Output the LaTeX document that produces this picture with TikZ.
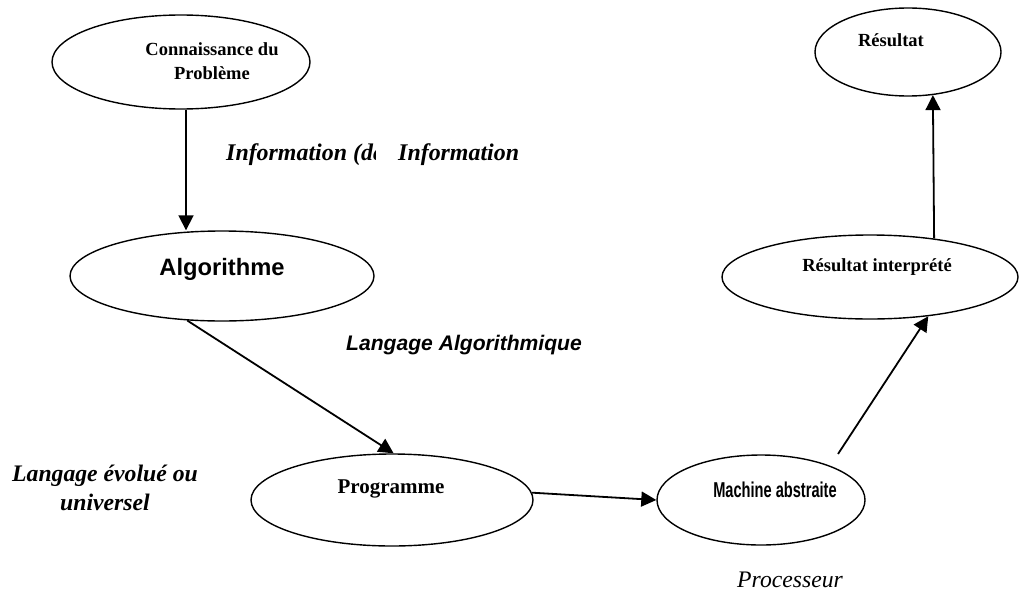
\documentclass[tikz,border=0pt]{standalone}
\usepackage{fontspec}
\setmainfont{Liberation Serif}
\newfontfamily\arialfont{Liberation Sans}
\usetikzlibrary{shapes.geometric,arrows.meta}
\tikzset{
  ell/.style={draw, ellipse, line width=1.4pt, inner sep=0pt},
  arr/.style={line width=1.8pt, -{Triangle[length=15pt,width=15pt]}},
  lbl/.style={inner sep=0pt, font=\fontsize{23.9}{28}\selectfont\bfseries\itshape},
  intext/.style={inner sep=0pt, align=center, font=\fontsize{18.5}{24}\selectfont\bfseries},
}
\begin{document}
\begin{tikzpicture}[x=1pt,y=-1pt]
\useasboundingbox (0,0) rectangle (1019,594);
% ellipses
\node[ell, minimum width=258pt, minimum height=94pt] (c1) at (181,62) {};
\node[ell, minimum width=304pt, minimum height=90pt] (alg) at (222,276) {};
\node[ell, minimum width=282pt, minimum height=92pt] (prog) at (392,500) {};
\node[ell, minimum width=208pt, minimum height=90pt] (mach) at (761,500) {};
\node[ell, minimum width=296pt, minimum height=84pt] (ri) at (870,277) {};
\node[ell, minimum width=186pt, minimum height=88pt] (res) at (908,52) {};
% texts in ellipses
\node[intext] (t1) at (212,61) {Connaissance du\\Problème};
\node[inner sep=0pt, font=\arialfont\fontsize{23.7}{28}\selectfont\bfseries] (t2) at (222,269) {Algorithme};
\node[intext, font=\fontsize{21}{24}\selectfont\bfseries] (t3) at (391,489) {Programme};
\node[inner sep=0pt, font=\arialfont\fontsize{21.5}{24}\selectfont\bfseries] (t4) at (775,490) {\scalebox{0.68}[1]{Machine abstraite}};
\node[intext] (t5) at (877,267) {Résultat interprété};
\node[intext] (t6) at (891,40) {Résultat};
% free labels
\begin{scope}
\clip (220,135) rectangle (375,180);
\node[lbl, anchor=west] (l1) at (226,155) {Information (de};
\end{scope}
\node[lbl, anchor=west] (l2) at (398,155) {Information};
\node[inner sep=0pt, anchor=west, font=\arialfont\fontsize{21.1}{24}\selectfont\bfseries\itshape] (l3) at (346,345) {Langage Algorithmique};
\node[lbl, align=center, font=\fontsize{23.7}{29}\selectfont\bfseries\itshape] (l4) at (105,488) {Langage évolué ou\\universel};
\node[inner sep=0pt, anchor=west, font=\fontsize{23.7}{28}\selectfont\itshape] (l5) at (737,580) {Processeur};
% connectors
\coordinate (m4) at (838,454);
\draw[arr] ([xshift=5pt]c1.south) -- ([xshift=5pt]c1.south |- alg.north);
\draw[arr] (alg.-128) -- (prog.88);
\draw[arr] (prog.3) -- (mach.west);
\draw[arr] (m4) -- (ri.-34);
\draw[arr] (ri.31) -- (res.-60);
\end{tikzpicture}
\end{document}
